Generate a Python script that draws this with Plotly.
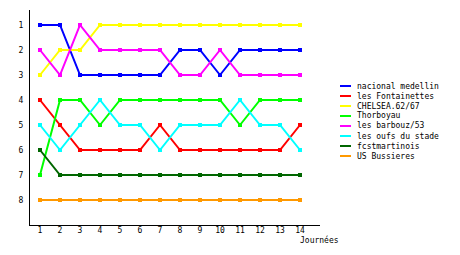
import plotly.graph_objects as go

journees = list(range(1, 15))
teams = ["nacional medellin", "les Fontainettes", "CHELSEA.62/67", "Thorboyau",
         "les barbouz/53", "les oufs du stade", "fcstmartinois", "US Bussieres"]
nacional = [1, 1, 3, 3, 3, 3, 3, 2, 2, 3, 2, 2, 2, 2]
fontainettes = [4, 5, 6, 6, 6, 6, 5, 6, 6, 6, 6, 6, 6, 5]
chelsea = [3, 2, 2, 1, 1, 1, 1, 1, 1, 1, 1, 1, 1, 1]
thorboyau = [7, 4, 4, 5, 4, 4, 4, 4, 4, 4, 5, 4, 4, 4]
barbouz = [2, 3, 1, 2, 2, 2, 2, 3, 3, 2, 3, 3, 3, 3]
oufs = [5, 6, 5, 4, 5, 5, 6, 5, 5, 5, 4, 5, 5, 6]
fcst = [6, 7, 7, 7, 7, 7, 7, 7, 7, 7, 7, 7, 7, 7]
bussieres = [8, 8, 8, 8, 8, 8, 8, 8, 8, 8, 8, 8, 8, 8]
series = [nacional, fontainettes, chelsea, thorboyau, barbouz, oufs, fcst, bussieres]
colors = ["#0000ff", "#ff0000", "#ffff00", "#00ff00", "#ff00ff", "#00ffff", "#006600", "#ff9900"]
y_ticks = [1, 2, 3, 4, 5, 6, 7, 8]

W, H = 460, 255
L, R, T, B = 30, 320, 10, 225
FONT = "DejaVu Sans Mono"


def px(x):
    return (x - L) / (R - L)


def py(y):
    return (B - y) / (B - T)


fig = go.Figure()
for name, vals, col in zip(teams, series, colors):
    fig.add_trace(go.Scatter(x=journees, y=vals, name=name, mode="lines+markers",
                             line=dict(color=col, width=2),
                             marker=dict(symbol="square", size=4, color=col),
                             showlegend=False))

shapes = []
annotations = []
for i, (name, col) in enumerate(zip(teams, colors)):
    yy = 86 + 10 * i
    shapes.append(dict(type="line", xref="paper", yref="paper",
                       x0=px(340), x1=px(351), y0=py(yy), y1=py(yy),
                       line=dict(color=col, width=2)))
    annotations.append(dict(xref="paper", yref="paper", x=px(355), y=py(yy),
                            text=name, showarrow=False, xanchor="left", yanchor="middle",
                            font=dict(family=FONT, size=8, color="black")))
annotations.append(dict(xref="paper", yref="paper", x=px(319), y=py(240),
                        text="Journées", showarrow=False, xanchor="center", yanchor="middle",
                        font=dict(family=FONT, size=8, color="black")))

fig.update_layout(
    width=W, height=H,
    margin=dict(l=L, r=W - R, t=T, b=H - B, pad=0),
    paper_bgcolor="white", plot_bgcolor="white",
    shapes=shapes, annotations=annotations,
    font=dict(family=FONT, size=8, color="black"),
    xaxis=dict(range=[0.5, 15], tickvals=journees, showgrid=False, zeroline=False,
               showline=True, linecolor="black", linewidth=1, ticks="",
               tickfont=dict(family=FONT, size=8), ticklabelstandoff=-3, fixedrange=True),
    yaxis=dict(range=[9, 0.4], tickvals=y_ticks, showgrid=False, zeroline=False,
               showline=True, linecolor="black", linewidth=1, ticks="",
               tickfont=dict(family=FONT, size=8), ticklabelstandoff=4, fixedrange=True),
)

fig.write_html("out.html", config={"displayModeBar": False})
